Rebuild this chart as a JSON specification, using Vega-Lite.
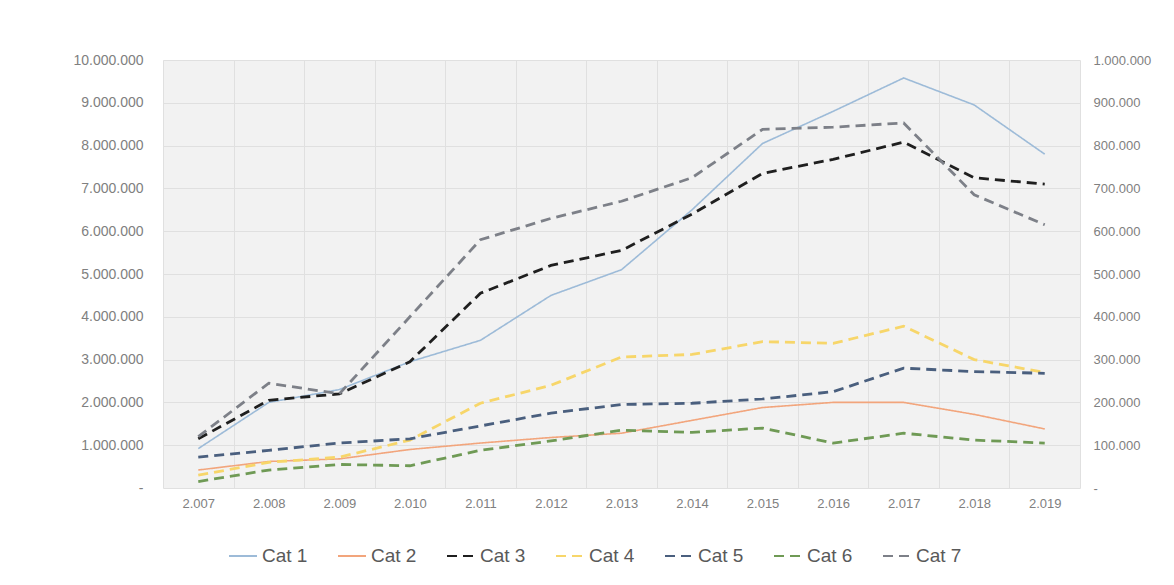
{
  "$schema": "https://vega.github.io/schema/vega-lite/v6.json",
  "width": 917,
  "height": 428,
  "autosize": {"type": "none"},
  "padding": {"left": 163, "top": 60, "right": 94, "bottom": 97},
  "background": "white",
  "config": {
    "locale": {"number": {"decimal": ",", "thousands": ".", "grouping": [3], "currency": ["", ""]}},
    "view": {"fill": "#f2f2f2", "stroke": null},
    "font": "Liberation Sans",
    "axis": {"labelColor": "#808080", "labelFontSize": 14, "domain": false, "ticks": false, "gridColor": "#e0e0e0", "gridWidth": 1, "title": null, "labelOverlap": false, "labelFlush": false}
  },
  "data": {
    "values": [
      {"year": 2007, "cat": "Cat 1", "value": 920000},
      {"year": 2008, "cat": "Cat 1", "value": 2000000},
      {"year": 2009, "cat": "Cat 1", "value": 2300000},
      {"year": 2010, "cat": "Cat 1", "value": 2950000},
      {"year": 2011, "cat": "Cat 1", "value": 3450000},
      {"year": 2012, "cat": "Cat 1", "value": 4500000},
      {"year": 2013, "cat": "Cat 1", "value": 5100000},
      {"year": 2014, "cat": "Cat 1", "value": 6500000},
      {"year": 2015, "cat": "Cat 1", "value": 8050000},
      {"year": 2016, "cat": "Cat 1", "value": 8800000},
      {"year": 2017, "cat": "Cat 1", "value": 9580000},
      {"year": 2018, "cat": "Cat 1", "value": 8950000},
      {"year": 2019, "cat": "Cat 1", "value": 7800000},
      {"year": 2007, "cat": "Cat 2", "value": 420000},
      {"year": 2008, "cat": "Cat 2", "value": 620000},
      {"year": 2009, "cat": "Cat 2", "value": 680000},
      {"year": 2010, "cat": "Cat 2", "value": 900000},
      {"year": 2011, "cat": "Cat 2", "value": 1050000},
      {"year": 2012, "cat": "Cat 2", "value": 1180000},
      {"year": 2013, "cat": "Cat 2", "value": 1280000},
      {"year": 2014, "cat": "Cat 2", "value": 1580000},
      {"year": 2015, "cat": "Cat 2", "value": 1880000},
      {"year": 2016, "cat": "Cat 2", "value": 2000000},
      {"year": 2017, "cat": "Cat 2", "value": 2000000},
      {"year": 2018, "cat": "Cat 2", "value": 1720000},
      {"year": 2019, "cat": "Cat 2", "value": 1380000},
      {"year": 2007, "cat": "Cat 3", "value": 115000},
      {"year": 2008, "cat": "Cat 3", "value": 205000},
      {"year": 2009, "cat": "Cat 3", "value": 220000},
      {"year": 2010, "cat": "Cat 3", "value": 295000},
      {"year": 2011, "cat": "Cat 3", "value": 455000},
      {"year": 2012, "cat": "Cat 3", "value": 520000},
      {"year": 2013, "cat": "Cat 3", "value": 555000},
      {"year": 2014, "cat": "Cat 3", "value": 640000},
      {"year": 2015, "cat": "Cat 3", "value": 735000},
      {"year": 2016, "cat": "Cat 3", "value": 768000},
      {"year": 2017, "cat": "Cat 3", "value": 808000},
      {"year": 2018, "cat": "Cat 3", "value": 725000},
      {"year": 2019, "cat": "Cat 3", "value": 710000},
      {"year": 2007, "cat": "Cat 4", "value": 30000},
      {"year": 2008, "cat": "Cat 4", "value": 60000},
      {"year": 2009, "cat": "Cat 4", "value": 72000},
      {"year": 2010, "cat": "Cat 4", "value": 112000},
      {"year": 2011, "cat": "Cat 4", "value": 198000},
      {"year": 2012, "cat": "Cat 4", "value": 240000},
      {"year": 2013, "cat": "Cat 4", "value": 306000},
      {"year": 2014, "cat": "Cat 4", "value": 312000},
      {"year": 2015, "cat": "Cat 4", "value": 342000},
      {"year": 2016, "cat": "Cat 4", "value": 338000},
      {"year": 2017, "cat": "Cat 4", "value": 378000},
      {"year": 2018, "cat": "Cat 4", "value": 300000},
      {"year": 2019, "cat": "Cat 4", "value": 270000},
      {"year": 2007, "cat": "Cat 5", "value": 72000},
      {"year": 2008, "cat": "Cat 5", "value": 88000},
      {"year": 2009, "cat": "Cat 5", "value": 105000},
      {"year": 2010, "cat": "Cat 5", "value": 115000},
      {"year": 2011, "cat": "Cat 5", "value": 145000},
      {"year": 2012, "cat": "Cat 5", "value": 175000},
      {"year": 2013, "cat": "Cat 5", "value": 195000},
      {"year": 2014, "cat": "Cat 5", "value": 198000},
      {"year": 2015, "cat": "Cat 5", "value": 208000},
      {"year": 2016, "cat": "Cat 5", "value": 225000},
      {"year": 2017, "cat": "Cat 5", "value": 280000},
      {"year": 2018, "cat": "Cat 5", "value": 272000},
      {"year": 2019, "cat": "Cat 5", "value": 268000},
      {"year": 2007, "cat": "Cat 6", "value": 15000},
      {"year": 2008, "cat": "Cat 6", "value": 42000},
      {"year": 2009, "cat": "Cat 6", "value": 55000},
      {"year": 2010, "cat": "Cat 6", "value": 52000},
      {"year": 2011, "cat": "Cat 6", "value": 88000},
      {"year": 2012, "cat": "Cat 6", "value": 110000},
      {"year": 2013, "cat": "Cat 6", "value": 135000},
      {"year": 2014, "cat": "Cat 6", "value": 130000},
      {"year": 2015, "cat": "Cat 6", "value": 140000},
      {"year": 2016, "cat": "Cat 6", "value": 105000},
      {"year": 2017, "cat": "Cat 6", "value": 128000},
      {"year": 2018, "cat": "Cat 6", "value": 112000},
      {"year": 2019, "cat": "Cat 6", "value": 105000},
      {"year": 2007, "cat": "Cat 7", "value": 120000},
      {"year": 2008, "cat": "Cat 7", "value": 245000},
      {"year": 2009, "cat": "Cat 7", "value": 220000},
      {"year": 2010, "cat": "Cat 7", "value": 400000},
      {"year": 2011, "cat": "Cat 7", "value": 580000},
      {"year": 2012, "cat": "Cat 7", "value": 630000},
      {"year": 2013, "cat": "Cat 7", "value": 670000},
      {"year": 2014, "cat": "Cat 7", "value": 725000},
      {"year": 2015, "cat": "Cat 7", "value": 838000},
      {"year": 2016, "cat": "Cat 7", "value": 843000},
      {"year": 2017, "cat": "Cat 7", "value": 853000},
      {"year": 2018, "cat": "Cat 7", "value": 685000},
      {"year": 2019, "cat": "Cat 7", "value": 615000}
    ]
  },
  "encoding": {
    "x": {
      "field": "year",
      "type": "quantitative",
      "scale": {"domain": [2006.5, 2019.5], "nice": false, "zero": false},
      "axis": {
        "values": [2006.5, 2007, 2007.5, 2008, 2008.5, 2009, 2009.5, 2010, 2010.5, 2011, 2011.5, 2012, 2012.5, 2013, 2013.5, 2014, 2014.5, 2015, 2015.5, 2016, 2016.5, 2017, 2017.5, 2018, 2018.5, 2019, 2019.5],
        "labelExpr": "datum.value % 1 == 0 ? format(datum.value, ',d') : ''",
        "gridOpacity": {"condition": {"test": "datum.value % 1 != 0", "value": 1}, "value": 0},
        "labelPadding": 9,
        "labelFontSize": 13
      }
    },
    "color": {
      "field": "cat",
      "type": "nominal",
      "scale": {
        "domain": ["Cat 1", "Cat 2", "Cat 3", "Cat 4", "Cat 5", "Cat 6", "Cat 7"],
        "range": ["#9dbbd8", "#f2a57c", "#1f1f1f", "#f7d66a", "#4a5f7e", "#6f9a55", "#7d8088"]
      },
      "legend": {
        "title": null, "orient": "none", "legendX": 65, "legendY": 481, "direction": "horizontal", "columns": 7,
        "columnPadding": 26, "symbolType": "stroke", "symbolSize": 784, "symbolStrokeWidth": 2,
        "labelFontSize": 19, "labelColor": "#595959", "labelOffset": 4
      }
    },
    "strokeDash": {
      "field": "cat",
      "type": "nominal",
      "scale": {
        "domain": ["Cat 1", "Cat 2", "Cat 3", "Cat 4", "Cat 5", "Cat 6", "Cat 7"],
        "range": [[1, 0], [1, 0], [10, 6], [10, 6], [10, 6], [10, 6], [10, 6]]
      },
      "legend": {
        "title": null, "orient": "none", "legendX": 65, "legendY": 481, "direction": "horizontal", "columns": 7,
        "columnPadding": 26, "symbolType": "stroke", "symbolSize": 784, "symbolStrokeWidth": 2,
        "labelFontSize": 19, "labelColor": "#595959", "labelOffset": 4
      }
    }
  },
  "layer": [
    {
      "transform": [{"filter": {"field": "cat", "oneOf": ["Cat 1", "Cat 2"]}}],
      "mark": {"type": "line", "strokeWidth": 1.6},
      "encoding": {
        "y": {
          "field": "value",
          "type": "quantitative",
          "scale": {"domain": [0, 10000000], "nice": false},
          "axis": {
            "orient": "left",
            "values": [0, 1000000, 2000000, 3000000, 4000000, 5000000, 6000000, 7000000, 8000000, 9000000, 10000000],
            "labelExpr": "datum.value == 0 ? '-\u00a0\u00a0\u00a0\u00a0' : format(datum.value, ',d')",
            "labelPadding": 20,
            "grid": true
          }
        }
      }
    },
    {
      "transform": [{"filter": {"field": "cat", "oneOf": ["Cat 3", "Cat 4", "Cat 5", "Cat 6", "Cat 7"]}}],
      "mark": {"type": "line", "strokeWidth": 2.8},
      "encoding": {
        "y": {
          "field": "value",
          "type": "quantitative",
          "scale": {"domain": [0, 1000000], "nice": false},
          "axis": {
            "orient": "right",
            "values": [0, 100000, 200000, 300000, 400000, 500000, 600000, 700000, 800000, 900000, 1000000],
            "labelExpr": "datum.value == 0 ? '\u00a0-' : format(datum.value, ',d')",
            "labelPadding": 13,
            "labelFontSize": 13,
            "grid": false
          }
        }
      }
    }
  ],
  "resolve": {"scale": {"y": "independent"}}
}
